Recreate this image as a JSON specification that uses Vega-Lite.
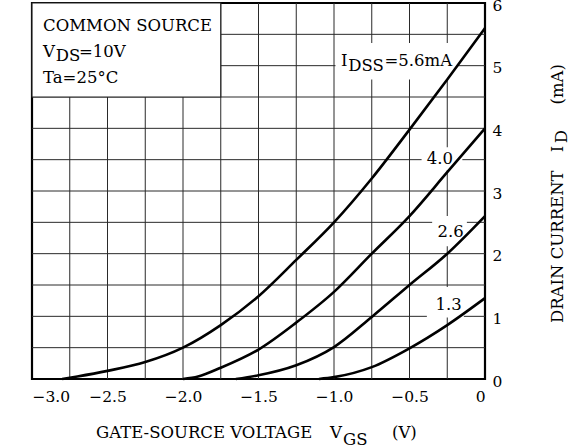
{
  "$schema": "https://vega.github.io/schema/vega-lite/v6.json",
  "width": 453,
  "height": 376,
  "autosize": {"type": "none"},
  "padding": {"left": 32, "top": 3, "right": 88, "bottom": 69},
  "background": "white",
  "config": {
    "font": "DejaVu Serif",
    "view": {"stroke": "black", "strokeWidth": 2.2},
    "axis": {"grid": false, "domain": false, "ticks": false, "tickSize": 0, "labelColor": "black", "labelFontSize": 15.5, "labelFont": "DejaVu Serif", "title": null}
  },
  "datasets": {
    "gx": [{"v": -2.75}, {"v": -2.5}, {"v": -2.25}, {"v": -2}, {"v": -1.75}, {"v": -1.5}, {"v": -1.25}, {"v": -1}, {"v": -0.75}, {"v": -0.5}, {"v": -0.25}],
    "gy": [{"v": 0.5}, {"v": 1}, {"v": 1.5}, {"v": 2}, {"v": 2.5}, {"v": 3}, {"v": 3.5}, {"v": 4}, {"v": 4.5}, {"v": 5}, {"v": 5.5}],
    "legendbox": [{"x": -3, "x2": -1.75, "y": 4.5, "y2": 6}],
    "labelboxes": [
      {"x": -0.99, "x2": -0.18, "y": 4.78, "y2": 5.36},
      {"x": -0.42, "x2": -0.15, "y": 3.33, "y2": 3.7},
      {"x": -0.35, "x2": -0.12, "y": 2.12, "y2": 2.6},
      {"x": -0.385, "x2": -0.14, "y": 0.98, "y2": 1.47}
    ],
    "curves": [
      {"s": "5.6", "x": -2.8, "y": 0}, {"s": "5.6", "x": -2.7, "y": 0.04}, {"s": "5.6", "x": -2.5, "y": 0.13}, {"s": "5.6", "x": -2.25, "y": 0.27}, {"s": "5.6", "x": -2.0, "y": 0.5}, {"s": "5.6", "x": -1.75, "y": 0.86}, {"s": "5.6", "x": -1.5, "y": 1.32}, {"s": "5.6", "x": -1.25, "y": 1.9}, {"s": "5.6", "x": -1.0, "y": 2.5}, {"s": "5.6", "x": -0.75, "y": 3.2}, {"s": "5.6", "x": -0.5, "y": 3.98}, {"s": "5.6", "x": -0.25, "y": 4.78}, {"s": "5.6", "x": 0, "y": 5.6},
      {"s": "4.0", "x": -2.0, "y": 0}, {"s": "4.0", "x": -1.9, "y": 0.04}, {"s": "4.0", "x": -1.75, "y": 0.18}, {"s": "4.0", "x": -1.5, "y": 0.47}, {"s": "4.0", "x": -1.25, "y": 0.9}, {"s": "4.0", "x": -1.0, "y": 1.39}, {"s": "4.0", "x": -0.75, "y": 2.0}, {"s": "4.0", "x": -0.5, "y": 2.6}, {"s": "4.0", "x": -0.25, "y": 3.3}, {"s": "4.0", "x": 0, "y": 4.0},
      {"s": "2.6", "x": -1.65, "y": 0}, {"s": "2.6", "x": -1.5, "y": 0.06}, {"s": "2.6", "x": -1.25, "y": 0.22}, {"s": "2.6", "x": -1.0, "y": 0.51}, {"s": "2.6", "x": -0.75, "y": 0.99}, {"s": "2.6", "x": -0.5, "y": 1.5}, {"s": "2.6", "x": -0.25, "y": 2.0}, {"s": "2.6", "x": 0, "y": 2.6},
      {"s": "1.3", "x": -1.1, "y": 0}, {"s": "1.3", "x": -1.0, "y": 0.03}, {"s": "1.3", "x": -0.75, "y": 0.19}, {"s": "1.3", "x": -0.5, "y": 0.49}, {"s": "1.3", "x": -0.25, "y": 0.86}, {"s": "1.3", "x": 0, "y": 1.29}
    ],
    "texts": [
      {"t": "COMMON SOURCE", "x": -2.927, "y": 5.555},
      {"t": "V", "x": -2.927, "y": 5.14},
      {"t": "DS", "x": -2.843, "y": 5.077},
      {"t": "=10V", "x": -2.689, "y": 5.14},
      {"t": "Ta=25°C", "x": -2.927, "y": 4.726},
      {"t": "I", "x": -0.954, "y": 4.99},
      {"t": "DSS", "x": -0.905, "y": 4.91},
      {"t": "=5.6mA", "x": -0.666, "y": 4.99},
      {"t": "4.0", "x": -0.386, "y": 3.43},
      {"t": "2.6", "x": -0.314, "y": 2.27},
      {"t": "1.3", "x": -0.328, "y": 1.1},
      {"t": "GATE-SOURCE VOLTAGE", "x": -2.576, "y": -0.936},
      {"t": "V", "x": -1.026, "y": -0.936},
      {"t": "GS", "x": -0.94, "y": -1.053},
      {"t": "(V)", "x": -0.616, "y": -0.936}
    ],
    "vtexts": [
      {"t": "DRAIN CURRENT", "x": 0.517, "y": 0.893},
      {"t": "I", "x": 0.517, "y": 3.62},
      {"t": "D", "x": 0.543, "y": 3.76},
      {"t": "(mA)", "x": 0.517, "y": 4.38}
    ]
  },
  "layer": [
    {
      "data": {"name": "gx"},
      "mark": {"type": "rule", "color": "#2a2a2a", "strokeWidth": 1},
      "encoding": {
        "x": {"field": "v", "type": "quantitative", "title": null, "scale": {"domain": [-3, 0], "nice": false, "zero": false},
          "axis": {"orient": "bottom", "values": [-3, -2.5, -2, -1.5, -1, -0.5, 0], "labelPadding": 10,
            "labelExpr": "datum.value == 0 ? '0' : '\u2212' + format(abs(datum.value), '.1f')"}}
      }
    },
    {
      "data": {"name": "gy"},
      "mark": {"type": "rule", "color": "#2a2a2a", "strokeWidth": 1},
      "encoding": {
        "y": {"field": "v", "type": "quantitative", "title": null, "scale": {"domain": [0, 6], "nice": false, "zero": false},
          "axis": {"orient": "right", "values": [0, 1, 2, 3, 4, 5, 6], "format": "d", "labelPadding": 7, "labelOffset": 2}}
      }
    },
    {
      "data": {"name": "legendbox"},
      "mark": {"type": "rect", "fill": "white", "stroke": "#222", "strokeWidth": 1.2},
      "encoding": {
        "x": {"field": "x", "type": "quantitative", "title": null},
        "x2": {"field": "x2"},
        "y": {"field": "y", "type": "quantitative", "title": null},
        "y2": {"field": "y2"}
      }
    },
    {
      "data": {"name": "labelboxes"},
      "mark": {"type": "rect", "fill": "white", "strokeWidth": 0},
      "encoding": {
        "x": {"field": "x", "type": "quantitative", "title": null},
        "x2": {"field": "x2"},
        "y": {"field": "y", "type": "quantitative", "title": null},
        "y2": {"field": "y2"}
      }
    },
    {
      "data": {"name": "curves"},
      "mark": {"type": "line", "color": "black", "strokeWidth": 2.6, "interpolate": "monotone"},
      "encoding": {
        "x": {"field": "x", "type": "quantitative", "title": null},
        "y": {"field": "y", "type": "quantitative", "title": null},
        "detail": {"field": "s"}
      }
    },
    {
      "data": {"name": "texts"},
      "mark": {"type": "text", "align": "left", "baseline": "alphabetic", "fontSize": 16.5, "color": "black", "font": "DejaVu Serif"},
      "encoding": {
        "x": {"field": "x", "type": "quantitative", "title": null},
        "y": {"field": "y", "type": "quantitative", "title": null},
        "text": {"field": "t"}
      }
    },
    {
      "data": {"name": "vtexts"},
      "mark": {"type": "text", "align": "left", "baseline": "alphabetic", "angle": 270, "fontSize": 16.5, "color": "black", "font": "DejaVu Serif"},
      "encoding": {
        "x": {"field": "x", "type": "quantitative", "title": null},
        "y": {"field": "y", "type": "quantitative", "title": null},
        "text": {"field": "t"}
      }
    }
  ]
}
